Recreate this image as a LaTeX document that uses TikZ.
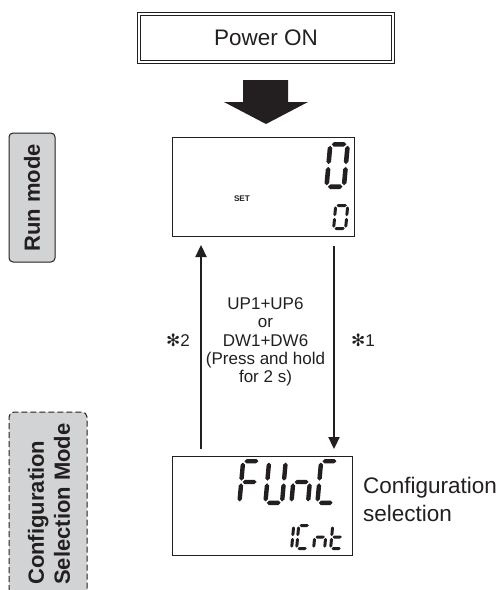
\documentclass[tikz,border=0pt]{standalone}
\usepackage{fontspec}
\setmainfont{Liberation Sans}
\newfontfamily\symfont{DejaVu Sans}
\usetikzlibrary{arrows.meta}
\definecolor{ink}{HTML}{231F20}
\definecolor{panel}{HTML}{D1D3D4}

% seven-segment digit: #1 x, #2 y (bottom-left), #3 width, #4 height, #5 thickness, #6 segments
\newcommand\ssd[6]{%
 \begin{scope}[shift={(#1,#2)},x=1pt,y=1pt,xslant=0.09,color=ink]
 \pgfmathsetmacro\sH{#5/2}%
 \pgfmathsetmacro\sL{#5/2}\pgfmathsetmacro\sR{#3-#5/2}%
 \pgfmathsetmacro\sB{#5/2}\pgfmathsetmacro\sT{#4-#5/2}%
 \pgfmathsetmacro\sM{#4/2}\pgfmathsetmacro\sG{#5*0.3}%
 #6
 \end{scope}}
\newcommand\hseg[3]{\fill (#1,#3) -- (#1+\sH,#3+\sH) -- (#2-\sH,#3+\sH) -- (#2,#3) -- (#2-\sH,#3-\sH) -- (#1+\sH,#3-\sH) -- cycle;}
\newcommand\vseg[3]{\fill (#1,#2) -- (#1+\sH,#2+\sH) -- (#1+\sH,#3-\sH) -- (#1,#3) -- (#1-\sH,#3-\sH) -- (#1-\sH,#2+\sH) -- cycle;}
\newcommand\sga{\hseg{\sL+\sG}{\sR-\sG}{\sT}}
\newcommand\sgb{\vseg{\sR}{\sM+\sG}{\sT-\sG}}
\newcommand\sgc{\vseg{\sR}{\sB+\sG}{\sM-\sG}}
\newcommand\sgd{\hseg{\sL+\sG}{\sR-\sG}{\sB}}
\newcommand\sge{\vseg{\sL}{\sB+\sG}{\sM-\sG}}
\newcommand\sgf{\vseg{\sL}{\sM+\sG}{\sT-\sG}}
\newcommand\sgg{\hseg{\sL+\sG}{\sR-\sG}{\sM}}

\tikzset{
  display/.style={draw=ink,line width=1pt,minimum width=180pt,minimum height=99pt,inner sep=0,outer sep=0},
  flow/.style={draw=ink,line width=2.3pt,-{Triangle[width=11pt,length=12pt]}},
  lbl/.style={text=ink,font=\fontsize{17}{18.3}\selectfont},
  big/.style={text=ink,font=\fontsize{22.5}{28}\selectfont},
  modebox/.style={draw=ink,line width=1pt,fill=panel},
  modetext/.style={text=ink,font=\bfseries\fontsize{22}{26}\selectfont,rotate=90,inner sep=0}
}

\begin{document}
\begin{tikzpicture}[x=1pt,y=-1pt]
\useasboundingbox (0,0) rectangle (501,590);

% Power ON
\node[draw=ink,line width=1.2pt,double=white,double distance=1.8pt,minimum width=253.4pt,minimum height=47.4pt,inner sep=0,outer sep=0,big] (power) at (266,38) {Power ON};

% big arrow
\fill[ink] (243,80) -- (288,80) -- (288,102) -- (308,102) -- (266,124) -- (224,102) -- (243,102) -- cycle;

% Run display
\node[display,minimum width=182pt] (run) at (263,186.5) {};
\node[text=ink,font=\bfseries\fontsize{8.2}{10}\selectfont] (set) at (242,199) {SET};
\ssd{324}{189}{22}{47}{4.6}{\sga\sgb\sgc\sgd\sge\sgf}
\ssd{332}{230}{15}{26}{3}{\sga\sgb\sgc\sgd\sge\sgf}

% Configuration display
\node[display] (cfg) at (262,505.5) {};
\ssd{237}{505}{21}{46}{4.4}{\sga\sge\sgf\sgg}
\ssd{263}{505}{21}{46}{4.4}{\sgb\sgc\sgd\sge\sgf}
\ssd{289}{505}{21}{46}{4.4}{\sgc\sge\sgg}
\ssd{315}{505}{21}{46}{4.4}{\sga\sgd\sge\sgf}
\ssd{279}{550}{14}{26}{3}{\sgb\sgc}
\ssd{295}{550}{14}{26}{3}{\sga\sgd\sge\sgf}
\ssd{312}{550}{14}{26}{3}{\sgc\sge\sgg}
\ssd{329}{550}{14}{26}{3}{\sgd\sge\sgf\sgg}

% arrows
\coordinate (upS) at (201,449);
\coordinate (upE) at (201,245);
\coordinate (dnS) at (334,246);
\coordinate (dnE) at (334,449);
\draw[flow] (upS) -- (upE);
\draw[flow] (dnS) -- (dnE);

\node[lbl,align=center] (keys) at (265.5,342) {UP1+UP6\\or\\DW1+DW6\\(Press and hold\\for 2 s)};
\node[lbl] (n2) at (178,340) {{\symfont ✻}2};
\node[lbl] (n1) at (363,340) {{\symfont ✻}1};

\node[big,anchor=west,align=left,inner sep=0] (cfgtext) at (363,499) {Configuration\\selection};

% mode labels
\node[modebox,rotate=90,rounded corners=4pt,minimum width=129pt,minimum height=46pt,inner sep=0,outer sep=0] (runbox) at (32,197.5) {};
\node[modetext] (runlbl) at (32,198) {Run mode};

\draw[modebox,dashed,dash pattern=on 6pt off 3pt,rounded corners=5pt] (9,600) -- (9,412) -- (87,412) -- (87,600);
\node[modetext,align=left,anchor=west] (cfglbl) at (49,585) {Configuration\\Selection Mode};
\end{tikzpicture}
\end{document}
